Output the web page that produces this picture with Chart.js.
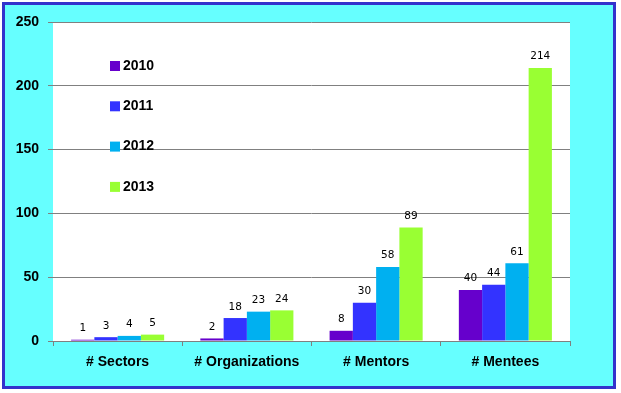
<!DOCTYPE html>
<html>
<head>
<meta charset="utf-8">
<script src="https://cdn.jsdelivr.net/npm/chart.js@4.4.0/dist/chart.umd.min.js"></script>
<style>
	html, body { margin: 0; padding: 0; background: #fff; }
	#frame {
		position: absolute; left: 2px; top: 2px; width: 614px; height: 387px;
		box-sizing: border-box; border: 3px solid #3333cc; background: #66ffff;
	}
	#chart { position: absolute; left: 0; top: 0; }
</style>
</head>
<body>
<div id="frame"></div>
<canvas id="chart" width="621" height="393"></canvas>
<script>
// Chart data
const categories = ['# Sectors', '# Organizations', '# Mentors', '# Mentees'];
const years = ['2010', '2011', '2012', '2013'];
const values2010 = [1, 2, 8, 40];
const values2011 = [3, 18, 30, 44];
const values2012 = [4, 23, 58, 61];
const values2013 = [5, 24, 89, 214];
const yTicks = [0, 50, 100, 150, 200, 250];

const colors = ['#6600cc', '#3333ff', '#00b0f0', '#99ff33'];
const series = [values2010, values2011, values2012, values2013];

// white plot area
const plotBg = {
	id: 'plotBg',
	beforeDraw(chart) {
		const a = chart.chartArea;
		const ctx = chart.ctx;
		ctx.save();
		ctx.fillStyle = '#ffffff';
		ctx.fillRect(a.left, a.top, a.right - a.left, a.bottom - a.top);
		ctx.restore();
	}
};

// numbers above the bars
const barLabels = {
	id: 'barLabels',
	afterDatasetsDraw(chart) {
		const ctx = chart.ctx;
		ctx.save();
		ctx.font = '10.5px "DejaVu Sans", sans-serif';
		ctx.fillStyle = '#000';
		ctx.textAlign = 'center';
		ctx.textBaseline = 'bottom';
		chart.data.datasets.forEach(function(ds, i) {
			chart.getDatasetMeta(i).data.forEach(function(bar, j) {
				ctx.fillText(ds.data[j], bar.x, bar.y - 6);
			});
		});
		ctx.restore();
	}
};

// legend drawn inside the plot, vertical list
const innerLegend = {
	id: 'innerLegend',
	afterDraw(chart) {
		const a = chart.chartArea;
		const ctx = chart.ctx;
		ctx.save();
		ctx.font = 'bold 14px "Liberation Sans", Arial, sans-serif';
		ctx.textBaseline = 'middle';
		chart.data.datasets.forEach(function(ds, i) {
			const y = a.top + 44 + i * 40.3;
			ctx.fillStyle = ds.backgroundColor;
			ctx.fillRect(a.left + 57, y - 5, 10, 10);
			ctx.fillStyle = '#000';
			ctx.fillText(ds.label, a.left + 70, y);
		});
		ctx.restore();
	}
};

new Chart(document.getElementById('chart'), {
	type: 'bar',
	data: {
		labels: categories,
		datasets: years.map(function(y, i) {
			return {
				label: y,
				data: series[i],
				backgroundColor: colors[i],
				borderWidth: 0,
				categoryPercentage: 0.72,
				barPercentage: 1.0
			};
		})
	},
	options: {
		responsive: false,
		animation: false,
		layout: { padding: { top: 22, right: 51, left: 0, bottom: 0 } },
		plugins: {
			legend: { display: false },
			tooltip: { enabled: false }
		},
		scales: {
			x: {
				afterFit: function(scale) { scale.height = 52; },
				grid: {
					offset: true,
					drawOnChartArea: false,
					drawTicks: true,
					tickLength: 5,
					color: '#808080'
				},
				border: { display: true, color: '#808080' },
				ticks: {
					padding: 8,
					color: '#000',
					font: { family: '"Liberation Sans", Arial, sans-serif', size: 14, weight: 'bold' }
				}
			},
			y: {
				min: 0,
				max: 250,
				afterFit: function(scale) { scale.width = 53; },
				afterBuildTicks: function(scale) {
					scale.ticks = yTicks.map(function(v) { return { value: v }; });
				},
				grid: {
					color: '#808080',
					tickLength: 5
				},
				border: { display: false },
				ticks: {
					padding: 9,
					color: '#000',
					font: { family: '"Liberation Sans", Arial, sans-serif', size: 14, weight: 'bold' }
				}
			}
		}
	},
	plugins: [plotBg, barLabels, innerLegend]
});
</script>
</body>
</html>
